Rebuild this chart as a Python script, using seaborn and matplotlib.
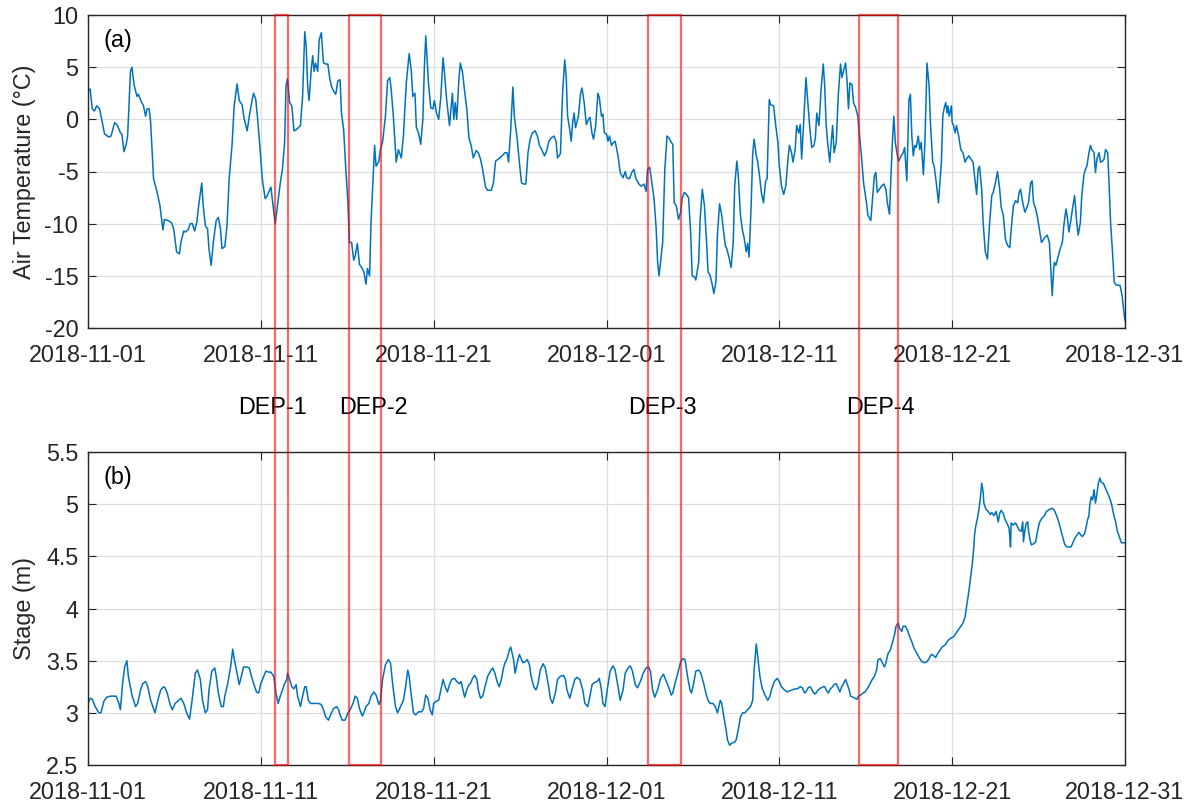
import numpy as np
import pandas as pd
import matplotlib
matplotlib.use("Agg")
import matplotlib.pyplot as plt
import matplotlib.dates as mdates
from matplotlib.patches import Rectangle
from matplotlib.transforms import blended_transform_factory
from matplotlib.ticker import FormatStrFormatter
import seaborn as sns

# ---------------- data (hours since 2018-11-01 00:00) ----------------
start = pd.Timestamp("2018-11-01")

temp_hours = [
    0, 3, 4, 6, 9, 12, 16, 19, 23, 29,
    32, 37, 41, 45, 47, 50, 53, 55, 59, 61,
    64, 68, 70, 74, 77, 80, 82, 85, 87, 91,
    96, 100, 104, 106, 111, 116, 119, 123, 127, 129,
    133, 135, 139, 142, 145, 148, 151, 154, 158, 160,
    163, 166, 168, 171, 174, 178, 181, 184, 186, 190,
    193, 196, 200, 203, 207, 210, 214, 217, 221, 224,
    228, 230, 233, 236, 239, 242, 246, 249, 252, 254,
    257, 260, 264, 267, 270, 273, 275, 277, 280, 283,
    286, 289, 295, 298, 301, 303, 305, 307, 310, 312,
    314, 316, 319, 321, 324, 327, 330, 333, 336, 338,
    341, 344, 347, 350, 352, 355, 358, 361, 363, 366,
    369, 371, 374, 377, 380, 383, 386, 388, 391, 393,
    396, 398, 400, 404, 406, 409, 413, 416, 419, 421,
    424, 428, 431, 435, 438, 442, 446, 449, 451, 454,
    456, 459, 462, 465, 467, 469, 471, 473, 476, 479,
    481, 484, 487, 490, 493, 495, 498, 502, 504, 506,
    508, 510, 512, 515, 517, 520, 524, 526, 529, 532,
    535, 539, 542, 545, 548, 552, 555, 560, 563, 566,
    570, 575, 579, 582, 584, 587, 590, 592, 596, 599,
    602, 605, 608, 611, 614, 617, 621, 624, 627, 630,
    634, 637, 640, 643, 647, 650, 652, 656, 659, 662,
    664, 666, 669, 671, 673, 675, 677, 681, 684, 686,
    689, 692, 695, 697, 700, 702, 705, 708, 710, 713,
    715, 717, 720, 722, 724, 727, 730, 732, 736, 739,
    743, 746, 748, 752, 755, 758, 761, 765, 768, 772,
    775, 777, 780, 783, 786, 789, 791, 793, 795, 798,
    801, 804, 807, 810, 812, 814, 817, 820, 823, 825,
    828, 831, 834, 837, 839, 842, 844, 848, 850, 853,
    856, 859, 861, 864, 867, 869, 872, 874, 877, 880,
    882, 885, 887, 890, 893, 896, 898, 901, 903, 906,
    909, 911, 914, 916, 918, 921, 923, 925, 928, 930,
    933, 935, 938, 941, 943, 946, 948, 952, 955, 958,
    960, 963, 966, 969, 972, 974, 977, 979, 982, 984,
    987, 989, 991, 994, 997, 999, 1002, 1005, 1008, 1010,
    1012, 1015, 1018, 1021, 1023, 1025, 1027, 1030, 1032, 1034,
    1036, 1039, 1042, 1045, 1047, 1049, 1052, 1054, 1056, 1058,
    1061, 1063, 1066, 1069, 1071, 1074, 1077, 1081, 1083, 1087,
    1089, 1092, 1094, 1096, 1099, 1102, 1105, 1108, 1110, 1113,
    1115, 1117, 1119, 1121, 1124, 1126, 1129, 1132, 1134, 1137,
    1139, 1140, 1142, 1144, 1146, 1148, 1150, 1153, 1155, 1157,
    1160, 1162, 1164, 1165, 1168, 1170, 1173, 1175, 1178, 1181,
    1183, 1185, 1187, 1189, 1191, 1193, 1194, 1196, 1199, 1200,
    1202, 1204, 1206, 1209, 1212, 1215, 1218, 1220, 1223, 1226,
    1229, 1231, 1234, 1236, 1238, 1241, 1243, 1246, 1249, 1252,
    1255, 1257, 1260, 1263, 1266, 1268, 1271, 1274, 1277, 1280,
    1282, 1285, 1288, 1291, 1293, 1295, 1298, 1301, 1304, 1306,
    1309, 1311, 1313, 1316, 1318, 1321, 1324, 1327, 1329, 1332,
    1335, 1337, 1339, 1341, 1342, 1344, 1347, 1350, 1353, 1355,
    1358, 1360, 1362, 1365, 1367, 1370, 1373, 1375, 1378, 1380,
    1383, 1385, 1387, 1390, 1392, 1394, 1397, 1399, 1401, 1404,
    1406, 1409, 1411, 1413, 1416, 1418, 1420, 1423, 1425, 1428,
    1430, 1433, 1436, 1439, 1440,
]
temp_values = [
    2.7, 2.9, 2.2, 1.0, 0.8, 1.3, 1.0, 0.0, -1.4, -1.7,
    -1.6, -0.3, -0.6, -1.3, -1.4, -3.1, -2.4, -1.6, 4.6, 5.0,
    3.3, 2.2, 2.4, 1.7, 1.3, 0.3, 1.0, 1.0, -0.3, -5.7,
    -7.0, -8.3, -10.6, -9.6, -9.7, -9.9, -10.5, -12.7, -12.9, -11.8,
    -10.7, -10.8, -10.6, -10.0, -10.0, -10.7, -9.9, -8.1, -6.1, -8.3,
    -10.2, -10.5, -12.4, -14.0, -11.8, -9.7, -9.4, -10.5, -12.4, -12.2,
    -10.2, -5.7, -2.5, 1.3, 3.4, 1.8, 1.4, 0.0, -1.1, 0.3,
    1.9, 2.5, 1.9, -0.3, -2.9, -5.7, -7.6, -7.3, -6.8, -6.5,
    -8.3, -10.0, -7.8, -6.1, -4.8, -2.2, 3.2, 3.9, 1.6, 1.3,
    -1.1, -1.0, -0.6, 2.2, 8.4, 7.0, 3.2, 1.8, 4.8, 6.1,
    4.6, 5.4, 4.6, 7.6, 8.3, 5.4, 5.3, 5.3, 3.8, 3.2,
    2.7, 2.4, 3.7, 3.8, 0.6, -1.0, -4.8, -8.0, -11.8, -11.8,
    -13.5, -13.1, -11.9, -13.9, -14.2, -14.6, -15.8, -14.3, -15.0, -9.9,
    -5.4, -2.5, -4.5, -4.0, -2.9, -2.2, 0.3, 3.7, 4.0, 2.9,
    0.3, -4.1, -2.9, -3.7, -1.6, 3.5, 6.3, 4.6, 2.2, 2.5,
    -0.8, -1.3, -2.4, 0.0, 4.8, 8.0, 5.7, 3.3, 1.1, 1.0,
    1.8, 0.6, 0.0, 2.2, 5.9, 4.5, 1.9, -0.6, 1.0, 2.5,
    0.0, 1.6, 0.0, 3.8, 5.4, 4.5, 2.1, 1.0, -1.8, -2.5,
    -3.7, -3.0, -3.2, -3.8, -4.8, -6.5, -6.8, -6.8, -6.1, -4.0,
    -3.8, -3.5, -3.2, -3.2, -4.1, -1.0, 3.1, 0.3, -1.9, -4.1,
    -6.1, -6.2, -6.2, -3.2, -1.9, -1.3, -1.1, -1.6, -2.5, -2.9,
    -3.5, -3.0, -2.1, -1.8, -1.6, -2.1, -3.7, -3.3, 2.5, 5.7,
    4.1, 0.3, -1.0, -2.1, -0.3, 0.6, -0.8, 0.3, 2.5, 3.0,
    1.6, -0.5, 0.0, 0.2, -1.4, -1.9, -0.6, 2.5, 2.1, 0.3,
    0.5, -1.3, -1.4, -2.1, -1.6, -2.5, -2.2, -2.1, -3.5, -5.1,
    -5.6, -5.0, -5.6, -5.7, -5.1, -4.8, -5.7, -6.2, -6.4, -6.2,
    -6.9, -4.8, -4.6, -6.1, -7.6, -10.5, -13.7, -15.0, -13.7, -11.8,
    -4.8, -1.6, -1.8, -2.2, -2.4, -8.0, -8.3, -9.6, -8.9, -7.6,
    -7.0, -7.2, -7.5, -11.1, -15.0, -15.1, -15.4, -13.7, -9.6, -6.7,
    -8.3, -11.8, -14.6, -15.0, -15.9, -16.7, -15.6, -11.1, -8.1, -9.2,
    -10.4, -12.1, -12.4, -13.2, -14.2, -11.8, -6.4, -4.0, -5.4, -9.2,
    -10.7, -11.3, -12.7, -11.9, -13.2, -8.0, -3.3, -1.9, -3.5, -4.1,
    -5.7, -7.0, -8.0, -5.9, -5.7, 1.9, 1.4, 1.3, -0.6, -2.2,
    -4.5, -6.4, -7.2, -6.4, -3.8, -2.5, -3.2, -4.1, -2.9, -0.6,
    -1.3, -0.5, -3.8, 0.0, 4.0, 2.2, -0.6, -2.7, -2.5, -1.8,
    0.6, -0.6, 2.9, 5.3, 3.2, -0.5, -2.2, -4.1, -2.2, -0.6,
    -3.2, -2.2, 2.5, 5.3, 4.0, 4.6, 5.4, 3.7, 1.0, 3.5,
    3.3, 1.6, 1.1, 0.3, -1.3, -3.5, -6.1, -8.0, -9.2, -9.7,
    -8.0, -5.4, -5.1, -7.0, -6.7, -6.4, -6.2, -6.7, -8.0, -9.1,
    -5.4, -2.2, 0.3, -2.2, -3.5, -4.0, -3.5, -3.2, -2.7, -5.9,
    -0.6, 1.9, 2.4, -1.6, -3.5, -2.5, -2.7, -1.6, -2.9, -2.2,
    -5.3, -2.5, 2.5, 5.4, 3.2, -0.6, -4.1, -4.5, -6.1, -8.0,
    -6.1, -4.1, 0.3, 1.1, 1.6, 0.6, 1.3, 0.3, 1.3, -0.3,
    -0.6, -1.3, -0.6, -1.6, -2.9, -3.2, -4.1, -3.8, -3.5, -3.8,
    -4.1, -5.4, -7.2, -4.8, -4.5, -6.7, -9.9, -12.7, -13.4, -9.9,
    -7.3, -7.0, -6.1, -5.0, -6.7, -8.4, -9.2, -11.5, -12.1, -12.3,
    -10.5, -8.3, -7.8, -8.0, -7.0, -6.7, -8.0, -8.9, -8.4, -8.0,
    -6.1, -5.9, -8.0, -8.6, -9.2, -10.5, -11.8, -11.5, -11.3, -11.1,
    -11.8, -14.3, -16.9, -14.3, -13.7, -14.0, -13.2, -12.4, -11.8, -10.2,
    -8.6, -9.4, -10.8, -9.6, -8.6, -7.3, -9.9, -11.1, -9.9, -7.3,
    -5.3, -4.8, -4.5, -3.2, -2.5, -2.9, -3.2, -5.1, -3.8, -3.2,
    -4.1, -4.0, -3.8, -2.9, -3.2, -6.4, -9.9, -13.1, -15.6, -15.9,
    -15.9, -15.9, -16.9, -18.8, -19.3,
]

stage_hours = [
    0, 3, 6, 10, 15, 18, 22, 26, 31, 36,
    39, 43, 45, 48, 51, 54, 56, 61, 66, 69,
    73, 76, 80, 83, 87, 90, 93, 97, 101, 105,
    107, 110, 114, 117, 121, 126, 129, 133, 137, 141,
    144, 149, 152, 156, 159, 163, 166, 168, 172, 176,
    178, 181, 185, 188, 190, 194, 198, 201, 203, 207,
    210, 214, 216, 220, 224, 227, 230, 234, 237, 240,
    244, 247, 251, 254, 258, 261, 264, 267, 270, 273,
    276, 277, 280, 283, 286, 289, 291, 295, 298, 301,
    303, 306, 309, 313, 316, 320, 324, 327, 330, 334,
    338, 341, 345, 348, 350, 353, 357, 361, 364, 368,
    371, 374, 377, 381, 383, 386, 390, 393, 397, 400,
    404, 406, 409, 413, 417, 420, 423, 427, 430, 434,
    438, 441, 444, 446, 449, 452, 455, 459, 463, 466,
    469, 472, 475, 478, 480, 483, 487, 491, 493, 496,
    499, 502, 505, 509, 512, 516, 518, 520, 523, 526,
    529, 531, 534, 537, 540, 542, 545, 548, 552, 555,
    559, 562, 565, 568, 571, 574, 577, 579, 582, 585,
    587, 589, 591, 593, 596, 599, 602, 604, 607, 610,
    613, 615, 619, 622, 625, 628, 632, 635, 639, 642,
    645, 649, 652, 656, 660, 663, 665, 669, 672, 676,
    679, 683, 687, 690, 694, 697, 700, 703, 707, 710,
    713, 715, 718, 721, 725, 729, 732, 736, 739, 743,
    746, 750, 753, 756, 760, 763, 767, 771, 775, 778,
    781, 784, 787, 791, 795, 799, 802, 806, 810, 812,
    815, 819, 823, 826, 829, 833, 836, 838, 841, 844,
    848, 851, 855, 858, 861, 864, 868, 871, 874, 876,
    878, 880, 883, 886, 888, 891, 894, 898, 900, 903,
    906, 909, 912, 916, 920, 923, 925, 928, 930, 933,
    936, 940, 944, 947, 949, 953, 957, 960, 963, 967,
    971, 974, 978, 982, 985, 989, 992, 995, 997, 1000,
    1003, 1006, 1009, 1011, 1014, 1018, 1021, 1023, 1026, 1028,
    1031, 1034, 1036, 1039, 1041, 1044, 1046, 1049, 1052, 1054,
    1057, 1059, 1062, 1065, 1068, 1070, 1073, 1076, 1079, 1083,
    1086, 1089, 1092, 1095, 1097, 1100, 1103, 1106, 1108, 1111,
    1114, 1117, 1120, 1122, 1125, 1127, 1130, 1132, 1135, 1138,
    1141, 1144, 1147, 1151, 1155, 1158, 1162, 1165, 1168, 1171,
    1174, 1177, 1180, 1183, 1186, 1190, 1193, 1195, 1199, 1202,
    1205, 1208, 1212, 1215, 1218, 1220, 1222, 1224, 1226, 1228,
    1230, 1231, 1233, 1235, 1237, 1239, 1241, 1243, 1244, 1247,
    1250, 1253, 1255, 1258, 1261, 1264, 1266, 1268, 1271, 1273,
    1276, 1279, 1280, 1281, 1282, 1285, 1288, 1291, 1293, 1296,
    1298, 1299, 1301, 1303, 1305, 1306, 1308, 1310, 1313, 1316,
    1318, 1321, 1324, 1328, 1331, 1335, 1339, 1342, 1345, 1348,
    1351, 1354, 1356, 1359, 1362, 1365, 1367, 1370, 1373, 1376,
    1379, 1381, 1384, 1386, 1388, 1390, 1391, 1393, 1395, 1397,
    1399, 1401, 1403, 1405, 1407, 1410, 1413, 1415, 1418, 1421,
    1424, 1427, 1429, 1432, 1435, 1438, 1440,
]
stage_values = [
    3.09, 3.14, 3.13, 3.06, 3.00, 3.00, 3.11, 3.15, 3.16, 3.16,
    3.16, 3.09, 3.03, 3.28, 3.44, 3.50, 3.35, 3.17, 3.06, 3.09,
    3.22, 3.28, 3.30, 3.25, 3.12, 3.06, 3.00, 3.12, 3.22, 3.25,
    3.24, 3.19, 3.08, 3.03, 3.09, 3.12, 3.14, 3.09, 3.00, 2.94,
    3.09, 3.38, 3.41, 3.32, 3.12, 3.00, 3.03, 3.22, 3.40, 3.43,
    3.35, 3.19, 3.06, 3.06, 3.16, 3.28, 3.44, 3.61, 3.52, 3.38,
    3.27, 3.38, 3.44, 3.44, 3.43, 3.35, 3.28, 3.20, 3.19, 3.28,
    3.35, 3.40, 3.39, 3.39, 3.35, 3.19, 3.09, 3.16, 3.22, 3.28,
    3.32, 3.38, 3.32, 3.25, 3.23, 3.27, 3.16, 3.06, 3.16, 3.25,
    3.25, 3.12, 3.09, 3.09, 3.09, 3.09, 3.08, 3.03, 2.96, 2.93,
    3.00, 3.04, 3.06, 3.03, 2.98, 2.93, 2.93, 3.00, 3.03, 3.09,
    3.16, 3.14, 3.04, 2.97, 3.00, 3.06, 3.09, 3.16, 3.20, 3.17,
    3.08, 3.11, 3.32, 3.46, 3.51, 3.48, 3.28, 3.06, 3.00, 3.06,
    3.12, 3.25, 3.41, 3.35, 3.16, 3.00, 2.98, 3.01, 3.01, 3.04,
    3.17, 3.14, 3.03, 2.98, 3.09, 3.11, 3.12, 3.25, 3.32, 3.25,
    3.20, 3.27, 3.32, 3.33, 3.30, 3.28, 3.30, 3.24, 3.15, 3.22,
    3.27, 3.28, 3.33, 3.36, 3.32, 3.22, 3.14, 3.16, 3.27, 3.35,
    3.40, 3.43, 3.38, 3.30, 3.25, 3.32, 3.43, 3.48, 3.52, 3.60,
    3.63, 3.57, 3.51, 3.38, 3.48, 3.56, 3.51, 3.48, 3.49, 3.51,
    3.46, 3.36, 3.25, 3.22, 3.28, 3.41, 3.47, 3.43, 3.28, 3.14,
    3.09, 3.19, 3.32, 3.35, 3.36, 3.32, 3.22, 3.14, 3.22, 3.32,
    3.34, 3.32, 3.22, 3.09, 3.06, 3.16, 3.27, 3.29, 3.30, 3.33,
    3.22, 3.09, 3.06, 3.22, 3.40, 3.45, 3.41, 3.25, 3.12, 3.22,
    3.38, 3.43, 3.45, 3.40, 3.27, 3.24, 3.30, 3.38, 3.43, 3.44,
    3.40, 3.22, 3.15, 3.22, 3.33, 3.37, 3.32, 3.25, 3.17, 3.19,
    3.28, 3.38, 3.49, 3.52, 3.51, 3.33, 3.22, 3.19, 3.28, 3.40,
    3.41, 3.38, 3.28, 3.19, 3.12, 3.09, 3.09, 3.06, 3.00, 3.06,
    3.12, 3.09, 2.96, 2.84, 2.74, 2.69, 2.71, 2.72, 2.74, 2.84,
    2.96, 3.00, 3.00, 3.03, 3.06, 3.12, 3.41, 3.66, 3.54, 3.35,
    3.24, 3.17, 3.12, 3.16, 3.22, 3.30, 3.33, 3.30, 3.25, 3.22,
    3.20, 3.21, 3.22, 3.23, 3.23, 3.25, 3.24, 3.19, 3.20, 3.24,
    3.25, 3.21, 3.18, 3.19, 3.22, 3.24, 3.25, 3.25, 3.21, 3.19,
    3.23, 3.25, 3.27, 3.28, 3.25, 3.20, 3.24, 3.28, 3.32, 3.28,
    3.22, 3.16, 3.15, 3.14, 3.13, 3.16, 3.17, 3.19, 3.20, 3.24,
    3.28, 3.32, 3.35, 3.41, 3.51, 3.52, 3.48, 3.44, 3.48, 3.57,
    3.60, 3.67, 3.75, 3.83, 3.86, 3.81, 3.78, 3.83, 3.83, 3.79,
    3.73, 3.68, 3.62, 3.57, 3.52, 3.49, 3.48, 3.49, 3.52, 3.56,
    3.55, 3.53, 3.57, 3.60, 3.63, 3.65, 3.68, 3.70, 3.72, 3.73,
    3.76, 3.79, 3.83, 3.86, 3.92, 4.02, 4.11, 4.21, 4.32, 4.43,
    4.58, 4.70, 4.80, 4.86, 4.94, 5.05, 5.20, 5.12, 5.01, 4.95,
    4.93, 4.90, 4.92, 4.89, 4.93, 4.83, 4.91, 4.94, 4.91, 4.86,
    4.82, 4.77, 4.69, 4.59, 4.82, 4.80, 4.82, 4.78, 4.75, 4.74,
    4.83, 4.64, 4.75, 4.82, 4.83, 4.75, 4.66, 4.61, 4.62, 4.64,
    4.72, 4.82, 4.86, 4.89, 4.93, 4.95, 4.96, 4.94, 4.89, 4.83,
    4.75, 4.67, 4.62, 4.59, 4.59, 4.59, 4.62, 4.67, 4.70, 4.73,
    4.70, 4.69, 4.72, 4.78, 4.85, 4.89, 4.99, 5.07, 5.04, 5.14,
    5.01, 5.10, 5.20, 5.25, 5.21, 5.20, 5.15, 5.12, 5.07, 5.01,
    4.91, 4.83, 4.75, 4.69, 4.63, 4.63, 4.63,
]

# DEP event windows (start/end) and label positions
dep_names = ["DEP-1", "DEP-2", "DEP-3", "DEP-4"]
dep_start = ["2018-11-11 19:00", "2018-11-16 02:00", "2018-12-03 10:00", "2018-12-15 14:00"]
dep_end = ["2018-11-12 14:00", "2018-11-17 23:00", "2018-12-05 07:00", "2018-12-17 21:00"]
dep_label_at = ["2018-11-11 16:00", "2018-11-17 12:00", "2018-12-04 05:00", "2018-12-16 20:00"]

xtick_dates = ["2018-11-01", "2018-11-11", "2018-11-21", "2018-12-01",
               "2018-12-11", "2018-12-21", "2018-12-31"]
temp_ticks = [-20, -15, -10, -5, 0, 5, 10]
stage_ticks = [2.5, 3, 3.5, 4, 4.5, 5, 5.5]

# ---------------- frame ----------------
temp_df = pd.DataFrame({
    "time": start + pd.to_timedelta(temp_hours, unit="h"),
    "temp": temp_values,
})
stage_df = pd.DataFrame({
    "time": start + pd.to_timedelta(stage_hours, unit="h"),
    "stage": stage_values,
})

sns.set_style("ticks")
plt.rcParams["font.family"] = ["Liberation Sans", "DejaVu Sans"]

W, H = 1192, 807
fig = plt.figure(figsize=(W / 100, H / 100), dpi=100)
fig.patch.set_facecolor("white")

ax_l, ax_r = 88 / W, 1125 / W
ax1 = fig.add_axes([ax_l, 1 - 328 / H, ax_r - ax_l, 313 / H])
ax2 = fig.add_axes([ax_l, 1 - 765 / H, ax_r - ax_l, 313 / H])

line_color = "#0072BD"
text_color = "#262626"
fs = 16.8

sns.lineplot(data=temp_df, x="time", y="temp", ax=ax1, color=line_color,
             linewidth=1.1, estimator=None, sort=False)
sns.lineplot(data=stage_df, x="time", y="stage", ax=ax2, color=line_color,
             linewidth=1.1, estimator=None, sort=False)

xt = pd.to_datetime(xtick_dates)
for ax, ticks, lab, tag in [(ax1, temp_ticks, "Air Temperature (°C)", "(a)"),
                            (ax2, stage_ticks, "Stage (m)", "(b)")]:
    ax.set_xlim(pd.Timestamp(xtick_dates[0]), pd.Timestamp(xtick_dates[-1]))
    ax.set_ylim(ticks[0], ticks[-1])
    ax.set_xticks(xt)
    ax.xaxis.set_major_formatter(mdates.DateFormatter("%Y-%m-%d"))
    ax.set_yticks(ticks)
    ax.yaxis.set_major_formatter(FormatStrFormatter("%g"))
    ax.grid(True, color="#dedede", linewidth=0.9)
    ax.set_axisbelow(True)
    for s in ax.spines.values():
        s.set_visible(True)
        s.set_color(text_color)
        s.set_linewidth(1.0)
    ax.tick_params(axis="both", direction="in", length=6, width=0.8,
                   top=True, right=True, colors=text_color, labelsize=fs)
    ax.tick_params(axis="x", pad=11.5)
    ax.tick_params(axis="y", pad=7)
    ax.set_xlabel("")
    ax.set_ylabel(lab, fontsize=fs, color=text_color)
    ax.yaxis.set_label_coords(-0.050, 0.5)
    ax.text(0.0145, 0.92, tag, transform=ax.transAxes, fontsize=fs,
            ha="left", va="center", color="black")

# DEP rectangles spanning both panels
trans = blended_transform_factory(ax1.transData, fig.transFigure)
y_bot = 1 - 765 / H
y_top = 1 - 15 / H
for name, s, e, lx in zip(dep_names, dep_start, dep_end, dep_label_at):
    x0 = mdates.date2num(pd.Timestamp(s))
    x1 = mdates.date2num(pd.Timestamp(e))
    rect = Rectangle((x0, y_bot), x1 - x0, y_top - y_bot, transform=trans,
                     fill=False, edgecolor=(1, 0, 0, 0.6), linewidth=1.6,
                     clip_on=False, zorder=10)
    fig.add_artist(rect)
    fig.text(mdates.date2num(pd.Timestamp(lx)), 1 - 408 / H, name,
             transform=trans, ha="center", va="center", fontsize=fs,
             color="black")

fig.savefig("out.png", dpi=100, facecolor="white")
